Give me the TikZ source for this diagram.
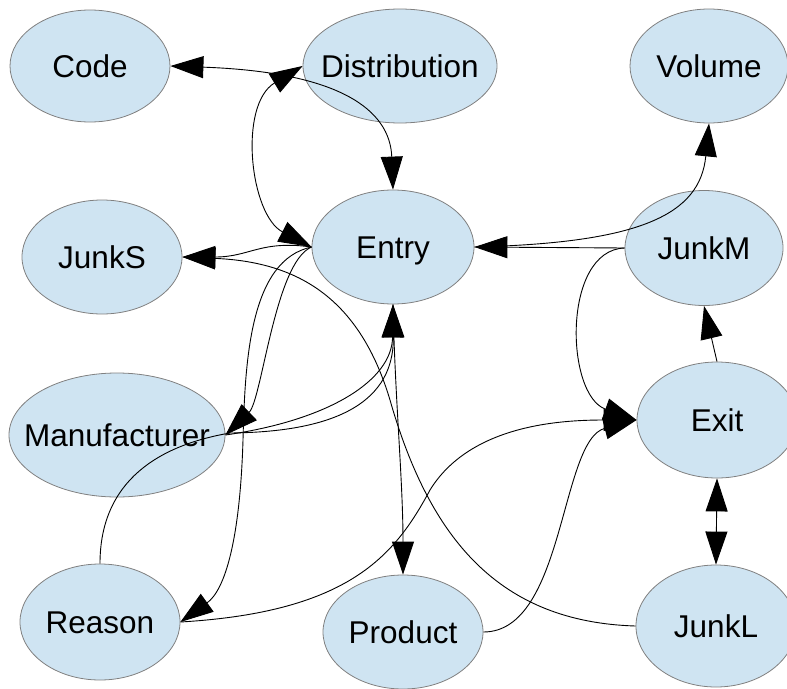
\documentclass[tikz,border=0pt]{standalone}
\usepackage{fontspec}
\setmainfont{Liberation Sans}
\usetikzlibrary{shapes.geometric,arrows.meta}
\definecolor{nodefill}{RGB}{207,228,242}
\definecolor{nodeline}{RGB}{128,128,128}
\newcommand{\lbl}[1]{\makebox[0pt][c]{#1}}
\begin{document}
\begin{tikzpicture}[x=1pt,y=-1pt,
  ell/.style={ellipse,draw=nodeline,fill=nodefill,line width=0.8pt,inner sep=0pt,text height=23pt,text depth=0pt,font=\fontsize{31.5}{36}\selectfont},
  edge/.style={black,line width=0.9pt},
  arr/.style={edge,-{Triangle[length=33pt,width=22pt]}},
  biarr/.style={edge,{Triangle[length=33pt,width=22pt]}-{Triangle[length=33pt,width=22pt]}}]
\useasboundingbox (0,0) rectangle (787,688);
% nodes
\node[ell,minimum width=160pt,minimum height=112pt] (code) at (90,66) {\lbl{Code}};
\node[ell,minimum width=194pt,minimum height=114pt] (dist) at (400,66) {\lbl{Distribution}};
\node[ell,minimum width=158pt,minimum height=114pt] (vol) at (709,66) {\lbl{Volume}};
\node[ell,minimum width=160pt,minimum height=114pt] (junks) at (102,257) {\lbl{JunkS}};
\node[ell,minimum width=162pt,minimum height=114pt] (entry) at (393,247) {\lbl{Entry}};
\node[ell,minimum width=158pt,minimum height=115pt] (junkm) at (704,248) {\lbl{JunkM}};
\node[ell,minimum width=216pt,minimum height=124pt] (manu) at (117,435) {\lbl{Manufacturer}};
\node[ell,minimum width=160pt,minimum height=116pt] (exit) at (717,420) {\lbl{Exit}};
\node[ell,minimum width=160pt,minimum height=116pt] (reason) at (100,622) {\lbl{Reason}};
\node[ell,minimum width=160pt,minimum height=114pt] (prod) at (403,632) {\lbl{Product}};
\node[ell,minimum width=160pt,minimum height=122pt] (junkl) at (716,626) {\lbl{JunkL}};
% edges
\draw[biarr] (code.east) .. controls (340,72) and (390,110) .. (entry.north);
\draw[biarr] (dist.west) .. controls (238,105) and (250,215) .. (entry.west);
\draw[arr] (entry.west) .. controls (260,240) and (250,257) .. (junks.east);
\draw[arr] (junkl.west) .. controls (500,622) and (430,540) .. (390,400) .. controls (360,300) and (300,262) .. (junks.east);
\draw[arr] (entry.west) .. controls (275,262) and (262,400) .. (manu.east);
\draw[arr] (entry.west) .. controls (250,260) and (245,360) .. (243,440) .. controls (240,540) and (225,590) .. (reason.east);
\draw[arr] (manu.east) .. controls (330,420) and (392,380) .. (entry.south);
\draw[arr] (reason.north) .. controls (100,480) and (160,445) .. (230,433) .. controls (340,432) and (394,400) .. (entry.south);
\draw[arr] (entry.south) .. controls (395,400) and (403,480) .. (prod.north);
\draw[arr] (reason.east) .. controls (350,612) and (395,555) .. (430,490) .. controls (470,425) and (560,420) .. (exit.west);
\draw[arr] (prod.east) .. controls (565,632) and (560,440) .. (exit.west);
\draw[arr] (junkm.west) .. controls (562,250) and (565,395) .. (exit.west);
\draw[arr] (junkm.west) -- (entry.east);
\draw[arr] (entry.east) .. controls (640,243) and (700,215) .. (vol.south);
\draw[arr] (exit.north) -- (junkm.south);
\draw[biarr] (exit.south) -- (junkl.north);
\end{tikzpicture}
\end{document}
